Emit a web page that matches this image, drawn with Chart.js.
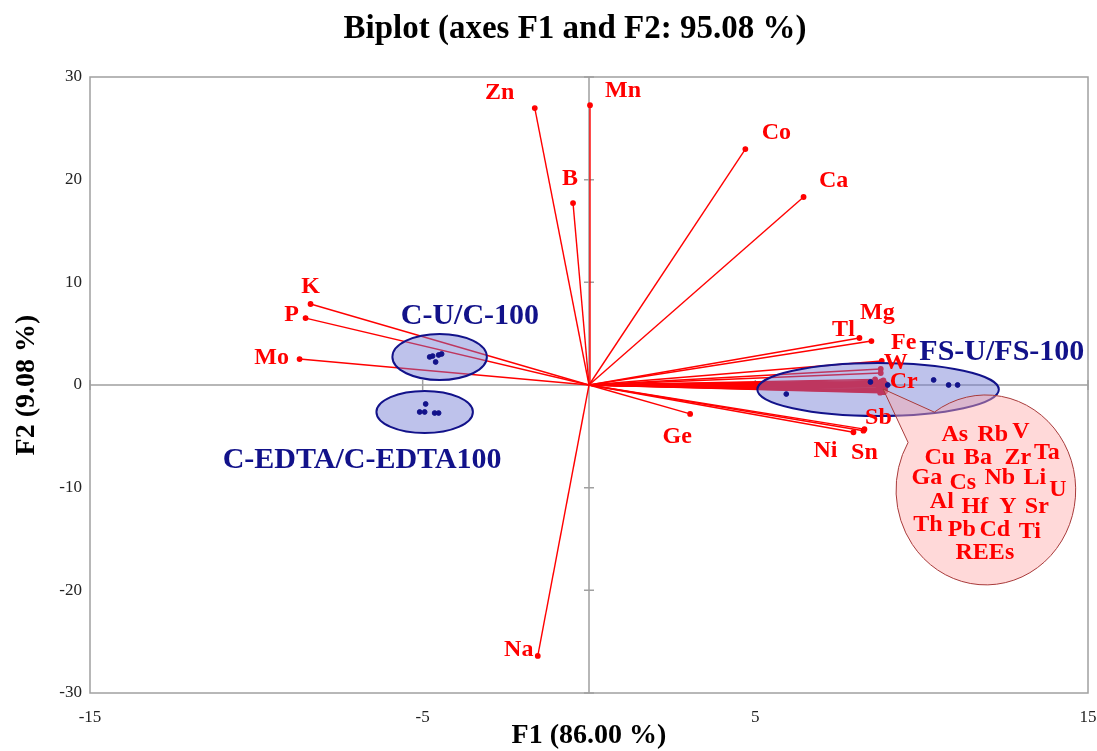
<!DOCTYPE html>
<html>
<head>
<meta charset="utf-8">
<script src="https://cdn.jsdelivr.net/npm/chart.js@4.4.1/dist/chart.umd.min.js"></script>
<style>
  html, body { margin: 0; padding: 0; background: #fff; overflow: hidden; }
  canvas { display: block; }
</style>
</head>
<body>
<canvas id="biplot" width="1097" height="751"></canvas>
<script>
// =========================
// DATA
// =========================

// variables with their own label next to the arrow tip
const varNames = ["Zn", "Mn", "B", "Co", "Ca", "K", "P", "Mo", "Na", "Ge",
                  "Tl", "Mg", "Fe", "W", "Cr", "Sb", "Ni", "Sn"];
const varF1 = [-1.63, 0.03, -0.48, 4.70, 6.45, -8.37, -8.52, -8.70, -1.54, 3.04,
               8.13, 8.49, 8.80, 8.77, 8.80, 8.28, 7.95, 8.25];
const varF2 = [26.97, 27.26, 17.72, 22.98, 18.31, 7.89, 6.52, 2.53, -26.39, -2.82,
               4.58, 4.28, 2.34, 1.56, 0.19, -4.30, -4.60, -4.45];

// variables crowded at the F1 end (listed in the callout)
const crowdNames = ["As", "Rb", "V", "Ta", "Cu", "Ba", "Zr", "Ga", "Cs", "Nb", "Li",
                    "U", "Al", "Hf", "Y", "Sr", "Th", "Pb", "Cd", "Ti", "REEs"];
const crowdF1 = [8.85, 8.80, 8.90, 8.77, 8.85, 8.80, 8.90, 8.70, 8.85, 8.80, 8.75,
                 8.60, 8.85, 8.80, 8.88, 8.70, 8.65, 8.83, 8.78, 8.86, 8.90];
const crowdF2 = [0.45, 0.30, 0.15, 1.17, -0.05, -0.20, -0.30, -0.45, -0.55, -0.65, -0.75,
                 0.55, 0.05, -0.15, -0.35, -0.10, 0.25, -0.50, 0.35, -0.70, -0.60];

// observations
const cuF1 = [-4.79, -4.70, -4.61, -4.52, -4.43];
const cuF2 = [2.73, 2.82, 2.24, 2.92, 3.02];
const edtaF1 = [-4.91, -5.09, -4.94, -4.64, -4.52];
const edtaF2 = [-1.85, -2.63, -2.63, -2.73, -2.73];
const fsF1 = [5.93, 8.46, 8.98, 10.36, 10.81, 11.08];
const fsF2 = [-0.88, 0.29, 0.00, 0.49, 0.00, 0.00];

// ticks
const xTicks = [-15, -5, 5, 15];
const yTicks = [-30, -20, -10, 0, 10, 20, 30];

// =========================
// STYLE (label offsets in px)
// =========================
const labelOffset = {
  Zn: [-35, -15], Mn: [33, -14], B: [-3, -24], Co: [31, -16], Ca: [30, -16],
  K: [0, -17], P: [-14, -3], Mo: [-28, -1], Na: [-19, -6], Ge: [-13, 23],
  Tl: [-16, -8], Mg: [6, -28], Fe: [22, -18], W: [15, -6], Cr: [22, -1],
  Sb: [14, -11], Ni: [-28, 19], Sn: [1, 22]
};

const bubbleSpots = {
  As: [-31, -55], Rb: [7, -55], V: [35, -58], Ta: [61, -37],
  Cu: [-46, -32], Ba: [-8, -32], Zr: [32, -32],
  Ga: [-59, -12], Cs: [-23, -7], Nb: [14, -12], Li: [49, -12], U: [72, 0],
  Al: [-44, 12], Hf: [-11, 17], Y: [22, 17], Sr: [51, 17],
  Th: [-58, 35], Pb: [-24, 40], Cd: [9, 40], Ti: [44, 42],
  REEs: [-1, 63]
};

const groups = [
  { cx: -4.49, cy: 2.73, rx: 1.42, ry: 2.24, text: "C-U/C-100", tx: -3.58, ty: 6.72 },
  { cx: -4.94, cy: -2.63, rx: 1.45, ry: 2.05, text: "C-EDTA/C-EDTA100", tx: -6.82, ty: -7.30 },
  { cx: 8.69, cy: -0.44, rx: 3.63, ry: 2.58, text: "FS-U/FS-100", tx: 12.41, ty: 3.21 }
];

const bubble = { cx: 11.93, cy: -10.22, rx: 2.70, ry: 9.25, tipX: 8.84, tipY: -0.39, angA: 210, angB: 235 };

const RED = "#f00";
const NAVY = "#12128a";
const SERIF = "'Liberation Serif', 'Times New Roman', serif";

// =========================
// DATASETS
// =========================
function vectorSet(x, y) {
  return {
    type: "line",
    data: [{ x: 0, y: 0 }, { x: x, y: y }],
    borderColor: RED,
    backgroundColor: RED,
    borderWidth: 1.4,
    pointRadius: [0, 2.2],
    pointHoverRadius: 0,
    fill: false,
    tension: 0,
    order: 2
  };
}

function obsSet(xs, ys) {
  return {
    type: "scatter",
    data: xs.map((v, i) => ({ x: v, y: ys[i] })),
    backgroundColor: NAVY,
    borderColor: NAVY,
    pointRadius: 2.4,
    order: 0
  };
}

const datasets = [
  obsSet(cuF1, cuF2),
  obsSet(edtaF1, edtaF2),
  obsSet(fsF1, fsF2)
];
varNames.forEach((n, i) => datasets.push(vectorSet(varF1[i], varF2[i])));
crowdNames.forEach((n, i) => datasets.push(vectorSet(crowdF1[i], crowdF2[i])));

// =========================
// DECOR PLUGIN
// =========================
const biplotDecor = {
  id: "biplotDecor",
  beforeDatasetsDraw(chart) {
    const { ctx, chartArea: a, scales: { x, y } } = chart;
    const x0 = x.getPixelForValue(0), y0 = y.getPixelForValue(0);
    ctx.save();
    ctx.strokeStyle = "#a0a0a0";
    ctx.lineWidth = 1.5;
    ctx.strokeRect(a.left, a.top, a.right - a.left, a.bottom - a.top);
    ctx.beginPath();
    ctx.moveTo(x0, a.top); ctx.lineTo(x0, a.bottom);
    ctx.moveTo(a.left, y0); ctx.lineTo(a.right, y0);
    xTicks.forEach(v => { const p = x.getPixelForValue(v); ctx.moveTo(p, y0 - 5); ctx.lineTo(p, y0 + 5); });
    yTicks.forEach(v => { const p = y.getPixelForValue(v); ctx.moveTo(x0 - 5, p); ctx.lineTo(x0 + 5, p); });
    ctx.stroke();
    ctx.restore();
    this._shaded = false;
  },
  beforeDatasetDraw(chart, args) {
    if (args.meta.type !== "scatter" || this._shaded) return;
    this._shaded = true;
    const { ctx, scales: { x, y } } = chart;
    const kx = Math.abs(x.getPixelForValue(1) - x.getPixelForValue(0));
    const ky = Math.abs(y.getPixelForValue(1) - y.getPixelForValue(0));
    ctx.save();
    // group ellipses
    groups.forEach(g => {
      ctx.beginPath();
      ctx.ellipse(x.getPixelForValue(g.cx), y.getPixelForValue(g.cy), g.rx * kx, g.ry * ky, 0, 0, Math.PI * 2);
      ctx.fillStyle = "rgba(110,120,210,0.45)";
      ctx.fill();
      ctx.strokeStyle = NAVY;
      ctx.lineWidth = 2;
      ctx.stroke();
    });
    // callout bubble
    const bx = x.getPixelForValue(bubble.cx), by = y.getPixelForValue(bubble.cy);
    const brx = bubble.rx * kx, bry = bubble.ry * ky;
    const aA = bubble.angA * Math.PI / 180, aB = bubble.angB * Math.PI / 180;
    ctx.beginPath();
    ctx.moveTo(x.getPixelForValue(bubble.tipX), y.getPixelForValue(bubble.tipY));
    ctx.lineTo(bx + brx * Math.cos(aB), by + bry * Math.sin(aB));
    ctx.ellipse(bx, by, brx, bry, 0, aB, aA + Math.PI * 2, false);
    ctx.closePath();
    ctx.fillStyle = "rgba(255,170,170,0.45)";
    ctx.fill();
    ctx.strokeStyle = "#a83a3a";
    ctx.lineWidth = 1;
    ctx.stroke();
    ctx.restore();
  },
  afterDatasetsDraw(chart) {
    const { ctx, scales: { x, y } } = chart;
    ctx.save();
    ctx.textAlign = "center";
    ctx.textBaseline = "middle";
    ctx.fillStyle = RED;
    ctx.font = "bold 24px " + SERIF;
    varNames.forEach((n, i) => {
      const o = labelOffset[n] || [0, -14];
      ctx.fillText(n, x.getPixelForValue(varF1[i]) + o[0], y.getPixelForValue(varF2[i]) + o[1]);
    });
    const bx = x.getPixelForValue(bubble.cx), by = y.getPixelForValue(bubble.cy);
    crowdNames.forEach(n => {
      const s = bubbleSpots[n];
      ctx.fillText(n, bx + s[0], by + s[1]);
    });
    ctx.fillStyle = NAVY;
    ctx.font = "bold 30px " + SERIF;
    groups.forEach(g => ctx.fillText(g.text, x.getPixelForValue(g.tx), y.getPixelForValue(g.ty)));
    // title
    ctx.fillStyle = "#000";
    ctx.font = "bold 33px " + SERIF;
    ctx.fillText("Biplot (axes F1 and F2: 95.08 %)", 575, 29);
    ctx.restore();
  }
};

// =========================
// CHART
// =========================
new Chart(document.getElementById("biplot"), {
  type: "scatter",
  data: { datasets: datasets },
  plugins: [biplotDecor],
  options: {
    responsive: false,
    animation: false,
    layout: { padding: { left: 10, right: 9, top: 77, bottom: 0 } },
    plugins: {
      legend: { display: false },
      tooltip: { enabled: false },
      title: { display: false }
    },
    scales: {
      x: {
        type: "linear",
        min: -15,
        max: 15,
        afterBuildTicks: s => { s.ticks = xTicks.map(v => ({ value: v })); },
        afterFit: s => { s.height = 58; s.paddingRight = 0; s.paddingLeft = 0; },
        grid: { display: false, drawTicks: false },
        border: { display: false },
        ticks: { color: "#222", padding: 14, font: { family: SERIF, size: 17 } },
        title: {
          display: true,
          text: "F1 (86.00 %)",
          color: "#000",
          font: { family: SERIF, size: 28, weight: "bold" },
          padding: { top: 0, bottom: -2 }
        }
      },
      y: {
        type: "linear",
        min: -30,
        max: 30,
        afterBuildTicks: s => { s.ticks = yTicks.map(v => ({ value: v })); },
        afterFit: s => { s.width = 80; },
        grid: { display: false, drawTicks: false },
        border: { display: false },
        ticks: { color: "#222", padding: 8, font: { family: SERIF, size: 17 } },
        title: {
          display: true,
          text: "F2 (9.08 %)",
          color: "#000",
          font: { family: SERIF, size: 28, weight: "bold" },
          padding: { top: 0, bottom: 0 }
        }
      }
    }
  }
});
</script>
</body>
</html>
